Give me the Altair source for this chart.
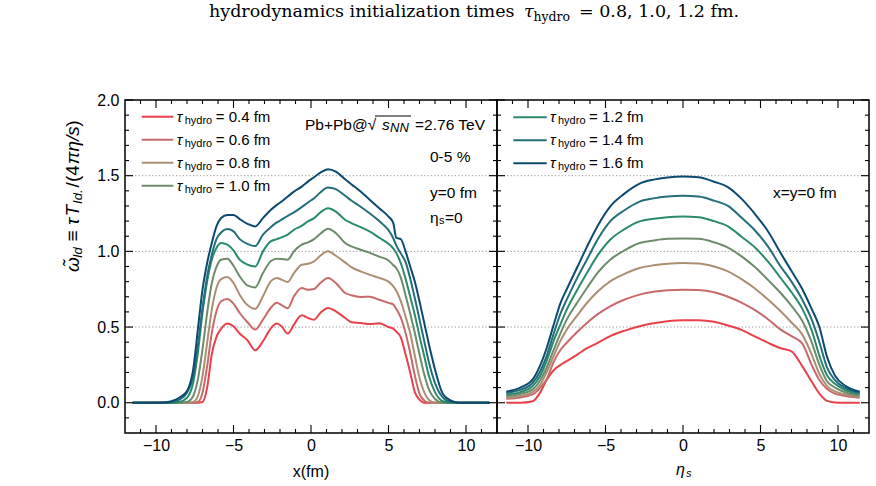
import altair as alt
import pandas as pd

# ---------------- data ----------------
TAU = ["0.4", "0.6", "0.8", "1.0", "1.2", "1.4", "1.6"]
LINE_COLORS = ["#e8414b", "#c8696b", "#ab8f72", "#6e8b6c", "#2b896c", "#236e79", "#0c4a70"]

# left panel: omega vs x (fm) at y=0, eta_s=0
X_FM = [-11.5, -9.5, -9.0, -8.5, -8.0, -7.6, -7.3, -7.0, -6.7, -6.4, -6.1, -5.8, -5.4, -5.0,
        -4.6, -4.1, -3.6, -3.1, -2.6, -2.2, -1.9, -1.5, -1.1, -0.6, -0.2, 0.2, 0.6, 1.1, 1.6,
        2.2, 2.6, 3.2, 3.8, 4.4, 5.0, 5.3, 5.5, 5.8, 6.1, 6.4, 6.7, 7.0, 7.3, 7.6, 8.0, 8.5,
        9.0, 9.5, 11.5]
W_X_04 = [0, 0, 0, 0, 0, 0, 0, 0.005, 0.10, 0.32, 0.435, 0.488, 0.523, 0.505, 0.457, 0.413,
          0.347, 0.406, 0.49, 0.523, 0.505, 0.457, 0.516, 0.578, 0.56, 0.549, 0.593, 0.626,
          0.604, 0.56, 0.532, 0.527, 0.52, 0.525, 0.50, 0.49, 0.47, 0.43, 0.32, 0.20, 0.07,
          0.02, 0.0, 0, 0, 0, 0, 0, 0]
W_X_06 = [0, 0, 0, 0, 0, 0, 0.005, 0.066, 0.242, 0.461, 0.604, 0.67, 0.686, 0.655, 0.593,
          0.532, 0.483, 0.549, 0.626, 0.66, 0.645, 0.625, 0.703, 0.758, 0.747, 0.751, 0.791,
          0.824, 0.791, 0.725, 0.71, 0.699, 0.70, 0.68, 0.66, 0.65, 0.62, 0.56, 0.46, 0.33,
          0.18, 0.06, 0.015, 0, 0, 0, 0, 0, 0]
W_X_08 = [0, 0, 0, 0, 0, 0.005, 0.044, 0.176, 0.396, 0.615, 0.758, 0.817, 0.83, 0.791, 0.714,
          0.645, 0.62, 0.703, 0.802, 0.824, 0.813, 0.798, 0.857, 0.912, 0.918, 0.934, 0.971,
          1.0, 0.971, 0.927, 0.896, 0.868, 0.845, 0.825, 0.80, 0.77, 0.74, 0.67, 0.57, 0.46,
          0.31, 0.165, 0.07, 0.02, 0, 0, 0, 0, 0]
W_X_10 = [0, 0, 0, 0, 0.005, 0.044, 0.154, 0.352, 0.593, 0.791, 0.897, 0.945, 0.952, 0.905,
          0.835, 0.775, 0.762, 0.857, 0.934, 0.951, 0.949, 0.945, 1.0, 1.044, 1.059, 1.081,
          1.116, 1.149, 1.121, 1.055, 1.033, 1.011, 0.99, 0.965, 0.94, 0.91, 0.89, 0.825,
          0.71, 0.59, 0.46, 0.32, 0.19, 0.09, 0.025, 0, 0, 0, 0]
W_X_12 = [0, 0, 0, 0.005, 0.033, 0.132, 0.33, 0.593, 0.802, 0.945, 1.022, 1.055, 1.044, 1.006,
          0.945, 0.912, 0.90, 1.0, 1.066, 1.081, 1.092, 1.11, 1.143, 1.169, 1.198, 1.22, 1.257,
          1.285, 1.263, 1.209, 1.187, 1.16, 1.13, 1.09, 1.05, 1.02, 0.99, 0.92, 0.82, 0.70,
          0.58, 0.44, 0.31, 0.18, 0.07, 0.01, 0, 0, 0]
W_X_14 = [0, 0, 0.003, 0.02, 0.066, 0.176, 0.374, 0.626, 0.835, 0.978, 1.081, 1.125, 1.147,
          1.132, 1.081, 1.05, 1.035, 1.11, 1.16, 1.191, 1.209, 1.235, 1.257, 1.292, 1.323,
          1.351, 1.389, 1.422, 1.411, 1.367, 1.336, 1.295, 1.25, 1.20, 1.14, 1.088, 1.04,
          0.985, 0.93, 0.82, 0.69, 0.55, 0.41, 0.27, 0.13, 0.035, 0.005, 0, 0]
W_X_16 = [0, 0.002, 0.01, 0.033, 0.077, 0.22, 0.483, 0.747, 0.923, 1.055, 1.165, 1.22, 1.241,
          1.241, 1.213, 1.182, 1.165, 1.22, 1.274, 1.307, 1.329, 1.362, 1.395, 1.428, 1.461,
          1.49, 1.52, 1.543, 1.527, 1.477, 1.444, 1.395, 1.34, 1.285, 1.23, 1.19, 1.09, 1.08,
          1.0, 0.9, 0.8, 0.67, 0.53, 0.39, 0.22, 0.06, 0.015, 0, 0]

# right panel: omega vs eta_s at x=y=0
ETA_S = [-11.4, -10.5, -9.7, -9.2, -8.8, -8.3, -7.9, -7.5, -6.8, -6.2, -5.5, -4.7, -3.8, -2.8,
         -1.9, -1.0, 0.0, 1.0, 2.0, 2.9, 3.8, 4.6, 5.5, 6.3, 7.0, 7.7, 8.3, 8.8, 9.3, 9.8,
         10.5, 11.4]
W_E_04 = [0.0, 0.0, 0.01, 0.07, 0.15, 0.22, 0.25, 0.275, 0.32, 0.36, 0.395, 0.44, 0.475, 0.505,
          0.525, 0.538, 0.545, 0.545, 0.535, 0.51, 0.48, 0.44, 0.395, 0.36, 0.34, 0.24, 0.14,
          0.06, 0.012, 0.002, 0.0, 0.0]
W_E_06 = [0.026, 0.035, 0.055, 0.1, 0.155, 0.28, 0.35, 0.396, 0.47, 0.527, 0.585, 0.637, 0.68,
          0.714, 0.733, 0.743, 0.747, 0.745, 0.73, 0.70, 0.66, 0.615, 0.55, 0.483, 0.44, 0.39,
          0.25, 0.15, 0.09, 0.06, 0.045, 0.033]
W_E_08 = [0.033, 0.045, 0.07, 0.12, 0.2, 0.32, 0.41, 0.483, 0.58, 0.659, 0.735, 0.802, 0.85,
          0.89, 0.908, 0.918, 0.923, 0.92, 0.9, 0.868, 0.815, 0.758, 0.68, 0.604, 0.53, 0.45,
          0.32, 0.19, 0.11, 0.075, 0.055, 0.04]
W_E_10 = [0.044, 0.058, 0.088, 0.15, 0.231, 0.36, 0.46, 0.549, 0.665, 0.758, 0.86, 0.945,
          1.005, 1.055, 1.072, 1.083, 1.085, 1.083, 1.06, 1.025, 0.965, 0.9, 0.81, 0.725,
          0.64, 0.54, 0.40, 0.25, 0.14, 0.1, 0.068, 0.048]
W_E_12 = [0.055, 0.07, 0.11, 0.18, 0.275, 0.42, 0.52, 0.615, 0.75, 0.857, 0.975, 1.077, 1.145,
          1.198, 1.215, 1.226, 1.23, 1.226, 1.2, 1.165, 1.095, 1.03, 0.93, 0.824, 0.73, 0.62,
          0.48, 0.31, 0.18, 0.125, 0.082, 0.057]
W_E_14 = [0.066, 0.085, 0.132, 0.21, 0.308, 0.47, 0.59, 0.681, 0.83, 0.945, 1.08, 1.198, 1.27,
          1.329, 1.35, 1.362, 1.367, 1.362, 1.335, 1.3, 1.22, 1.143, 1.03, 0.9, 0.8, 0.68,
          0.55, 0.4, 0.23, 0.15, 0.095, 0.066]
W_E_16 = [0.073, 0.1, 0.154, 0.25, 0.36, 0.53, 0.66, 0.75, 0.9, 1.03, 1.17, 1.296, 1.38, 1.448,
          1.474, 1.488, 1.494, 1.49, 1.46, 1.425, 1.345, 1.252, 1.13, 0.989, 0.87, 0.75, 0.62,
          0.5, 0.3, 0.18, 0.11, 0.073]

X_MAJOR = [-10, -5, 0, 5, 10]
X_MINOR = [-11, -9, -8, -7, -6, -4, -3, -2, -1, 1, 2, 3, 4, 6, 7, 8, 9, 11]
Y_MAJOR = [0.0, 0.5, 1.0, 1.5, 2.0]
Y_MINOR = [-0.1, 0.1, 0.2, 0.3, 0.4, 0.6, 0.7, 0.8, 0.9, 1.1, 1.2, 1.3, 1.4, 1.6, 1.7, 1.8, 1.9]
GRID_Y = [0.5, 1.0, 1.5]

# ---------------- build tables ----------------
W_X = [W_X_04, W_X_06, W_X_08, W_X_10, W_X_12, W_X_14, W_X_16]
W_E = [W_E_04, W_E_06, W_E_08, W_E_10, W_E_12, W_E_14, W_E_16]
left_df = pd.DataFrame([{"x": x, "w": w, "tau": t}
                        for t, ws in zip(TAU, W_X) for x, w in zip(X_FM, ws)])
right_df = pd.DataFrame([{"x": x, "w": w, "tau": t}
                         for t, ws in zip(TAU, W_E) for x, w in zip(ETA_S, ws)])

SANS = "Liberation Sans"
SERIF = "DejaVu Serif"
W, H = 372, 333
ONE = pd.DataFrame({"k": [0]})

xs = alt.Scale(domain=[-12, 12], nice=False, zero=False)
ys = alt.Scale(domain=[-0.2, 2.0], nice=False, zero=False)
cs = alt.Scale(domain=TAU, range=LINE_COLORS)

x_axis = alt.Axis(values=X_MAJOR, ticks=False, domain=False, grid=False, labelFontSize=16,
                  labelPadding=4.5, title=None, labelColor="black", labelFont=SANS)
y_axis_l = alt.Axis(values=Y_MAJOR, format=".1f", ticks=False, domain=False, grid=False,
                    labelFontSize=16, labelPadding=6, title=None, labelColor="black",
                    labelFont=SANS)


def txt(text, x, y, size=15, style="normal", align="left", baseline="middle",
        angle=0, font=SANS):
    return alt.Chart(ONE).mark_text(
        text=text, fontSize=size, fontStyle=style, align=align, baseline=baseline,
        angle=angle, font=font, color="black"
    ).encode(x=alt.value(x), y=alt.value(y))


def tick_layers(yax):
    out = []
    for vals, L in ((X_MAJOR, 8), (X_MINOR, 4)):
        base = alt.Chart(pd.DataFrame({"v": vals})).mark_rule(color="black", strokeWidth=1.1)
        out.append(base.encode(x=alt.X("v:Q", scale=xs, axis=x_axis), y=alt.value(H), y2=alt.value(H - L)))
        out.append(base.encode(x=alt.X("v:Q", scale=xs, axis=x_axis), y=alt.value(0), y2=alt.value(L)))
    for vals, L in ((Y_MAJOR, 8), (Y_MINOR, 4)):
        base = alt.Chart(pd.DataFrame({"v": vals})).mark_rule(color="black", strokeWidth=1.1)
        out.append(base.encode(y=alt.Y("v:Q", scale=ys, axis=yax), x=alt.value(0), x2=alt.value(L)))
        out.append(base.encode(y=alt.Y("v:Q", scale=ys, axis=yax), x=alt.value(W), x2=alt.value(W - L)))
    return out


def grid_layer(yax):
    return alt.Chart(pd.DataFrame({"g": GRID_Y})).mark_rule(
        color="#8a8a8a", strokeWidth=0.9, strokeDash=[1.2, 2.2]
    ).encode(y=alt.Y("g:Q", scale=ys, axis=yax), x=alt.value(0), x2=alt.value(W))


def legend_layers(taus, colors, x0, x1, xt, y0):
    out = []
    for i, (t, c) in enumerate(zip(taus, colors)):
        yy = y0 + 23 * i
        out.append(alt.Chart(ONE).mark_rule(color=c, strokeWidth=2).encode(
            x=alt.value(x0), x2=alt.value(x1), y=alt.value(yy)))
        out.append(txt("τ", xt, yy, 15, "italic"))
        out.append(txt("hydro", xt + 8, yy + 4, 11))
        out.append(txt("= " + t + " fm", xt + 39, yy, 15))
    return out


left_lines = alt.Chart(left_df).mark_line(strokeWidth=2, interpolate="monotone").encode(
    x=alt.X("x:Q", scale=xs, axis=x_axis),
    y=alt.Y("w:Q", scale=ys, axis=y_axis_l),
    color=alt.Color("tau:N", scale=cs, legend=None),
    order=alt.Order("x:Q"),
)
right_lines = alt.Chart(right_df).mark_line(strokeWidth=2, interpolate="monotone").encode(
    x=alt.X("x:Q", scale=xs, axis=x_axis),
    y=alt.Y("w:Q", scale=ys, axis=None),
    color=alt.Color("tau:N", scale=cs, legend=None),
    order=alt.Order("x:Q"),
)

# annotations, left panel
left_text = [
    txt("Pb+Pb@√", 180, 25, 15.5),
    txt("s", 257, 25, 15.5, "italic"),
    txt("NN", 265, 28, 13, "italic"),
    txt("=2.76 TeV", 360, 25, 15.5, align="right"),
    alt.Chart(ONE).mark_rule(color="black", strokeWidth=1).encode(
        x=alt.value(250), x2=alt.value(286), y=alt.value(16)),
    txt("0-5 %", 305, 57, 15.5),
    txt("y=0 fm", 305, 93, 15.5),
    txt("η", 305, 118, 15.5),
    txt("s", 314, 121, 11),
    txt("=0", 320, 118, 15.5),
    txt("x(fm)", 186, 372, 16, align="center"),
    # caption above
    txt("hydrodynamics initialization times", 84, -83, 17.5, font=SERIF, baseline="alphabetic"),
    txt("τ", 399, -83, 17.5, "italic", font=SERIF, baseline="alphabetic"),
    txt("hydro", 408.5, -79, 12.5, font=SERIF, baseline="alphabetic"),
    txt("= 0.8, 1.0, 1.2 fm.", 454, -83, 17.5, font=SERIF, baseline="alphabetic"),
]
# rotated y title pieces (bottom to top): text, size, style, shift, advance
yt = [("ω̃", 19, "italic", 0, 14), ("Id", 13, "italic", 5, 16.5), ("≡", 19, "normal", 0, 16.5),
      ("τ", 19, "italic", 0, 8.5), ("T", 19, "italic", 0, 12.6), ("Id.", 13, "italic", 5, 16.5),
      ("/(4", 19, "normal", 0, 23.2), ("πη/s", 19, "italic", 0, 37.4), (")", 19, "normal", 0, 6.3)]
pos = 172
for s, sz, st, sh, adv in yt:
    left_text.append(txt(s, -52 + sh, pos, sz, st, angle=270))
    pos -= adv

right_text = [
    txt("x=y=0 fm", 276, 93, 15.5),
    txt("η", 179, 370, 16, "italic"),
    txt("s", 189, 374, 11, "italic"),
]

left = alt.layer(
    grid_layer(y_axis_l), left_lines, *tick_layers(y_axis_l),
    *legend_layers(TAU[:4], LINE_COLORS[:4], 16.7, 48.3, 51.7, 16.7),
    *left_text,
).properties(width=W, height=H)

right = alt.layer(
    grid_layer(None), right_lines, *tick_layers(None),
    *legend_layers(TAU[4:], LINE_COLORS[4:], 16.3, 49.7, 53, 17.3),
    *right_text,
).properties(width=W, height=H)

chart = alt.hconcat(left, right, spacing=0, bounds="flush").properties(
    padding={"left": 63, "top": 2, "right": 2, "bottom": 2}
).configure(font=SANS).configure_view(stroke="black", strokeWidth=1.5)

chart.save("out.html", embed_options={"renderer": "svg", "actions": False})
